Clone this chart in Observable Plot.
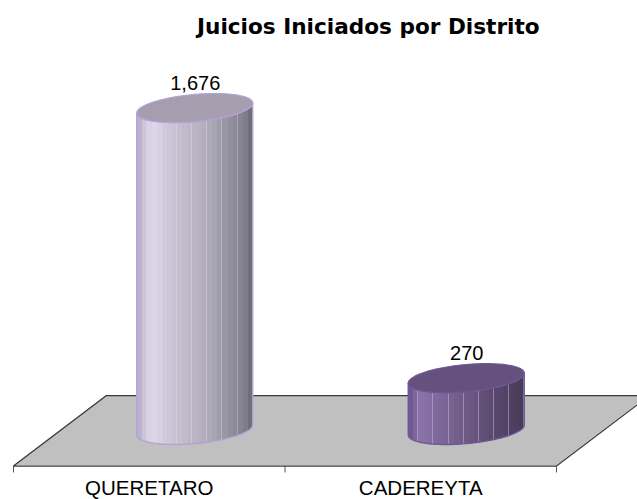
<!DOCTYPE html>
<html>
<head>
<meta charset="utf-8">
<script src="https://cdn.jsdelivr.net/npm/d3@7"></script>
<script src="https://cdn.jsdelivr.net/npm/@observablehq/plot@0.6"></script>
<style>
  html, body { margin: 0; padding: 0; background: #fff; }
  #title { height: 50px; box-sizing: border-box; padding: 14px 0 0 197px; font: bold 21.6px/26px "DejaVu Sans", sans-serif; color: #000; white-space: nowrap; }
  svg { display: block; }
</style>
</head>
<body>
<div id="title">Juicios Iniciados por Distrito</div>
<div id="chart"></div>
<script>
const chartTitle = "Juicios Iniciados por Distrito";
const categories = ["QUERETARO", "CADEREYTA"];
const values = [1676, 270];
const capColors = ["#a69eae", "#65517d"];
const edgeColors = ["#b3a2d6", "#6f5796"];
const sideShades = [
  ["#bbb3cc","#cbc4da","#d8d2e5","#dcd6e8","#d6d0e2","#d0cadc","#ccc6d8","#c8c2d3","#c5bfd0","#c1bccc","#bdb8c8","#bab5c4","#b7b2c1","#b3aebd","#aeaab8","#a8a4b2","#a09daa","#9a97a4","#93909e","#8d8a98","#868392","#7f7c8a","#706f78"],
  ["#6f5a8e","#7e679d","#8a72a8","#8870a5","#846da1","#80699c","#7d6798","#7a6494","#776290","#745f8c","#715c88","#6e5a85","#6b5781","#67547c","#635078","#5f4d74","#5b4a70","#58476c","#554568","#524265","#4f4061","#4c3e5d","#493b59"]
];
const stripeColors = ["#ece9f2", "#c9bcdc"];
const stripeStrength = [0.3, 0.5];

// Picture geometry, expressed in the units of the two scales
const depth = 0.3425, shift = 0.1694, rx = 0.2136, tilt = 26, bulge = 70.8;
const floorFront = -185, floorBack = 182, tickLen = -36, labelY = -302, valueDy = -25;
const angles = d3.range(0, 61).map(i => (i / 60) * Math.PI);

const cx = i => i + 0.5 + shift;
const arcs = (i, v) => angles.map(t => ({
  x: cx(i) + rx * Math.cos(t),
  back: v + tilt * Math.cos(t) + bulge * Math.sin(t),
  front: v + tilt * Math.cos(t) - bulge * Math.sin(t),
  base: tilt * Math.cos(t) - bulge * Math.sin(t)
}));

const floorArea = [
  {x: 0, y1: floorFront, y2: floorFront},
  {x: depth, y1: floorFront, y2: floorBack},
  {x: 2, y1: floorFront, y2: floorBack},
  {x: 2 + depth, y1: floorBack, y2: floorBack}
];
const floorEdge = [
  {x: 0, y: floorFront}, {x: depth, y: floorBack}, {x: 2 + depth, y: floorBack},
  {x: 2, y: floorFront}, {x: 0, y: floorFront}
];

function gradients() {
  const defs = d3.create("svg:defs");
  sideShades.forEach((shades, k) => {
    const g = defs.append("linearGradient").attr("id", "side" + k)
      .attr("x1", 0).attr("x2", 1).attr("y1", 0).attr("y2", 0);
    const n = shades.length;
    shades.forEach((c, j) => {
      const a = j / n, b = (j + 1) / n, line = 0.009;
      g.append("stop").attr("offset", a).attr("stop-color", c);
      g.append("stop").attr("offset", b - line).attr("stop-color", c);
      const s = j % 3 === 1 ? d3.interpolateRgb(c, stripeColors[k])(stripeStrength[k]) : c;
      g.append("stop").attr("offset", b - line).attr("stop-color", s);
      g.append("stop").attr("offset", b).attr("stop-color", s);
    });
  });
  return defs.node();
}

const marks = [
  gradients,
  Plot.areaY(floorArea, {x: "x", y1: "y1", y2: "y2", fill: "#c0c0c0"}),
  Plot.line(floorEdge, {x: "x", y: "y", stroke: "#3a3a3a", strokeWidth: 1.2}),
  Plot.ruleX([0, 1, 2], {y1: floorFront, y2: tickLen + floorFront, stroke: "#555", strokeWidth: 1})
];

categories.forEach((cat, i) => {
  const pts = arcs(i, values[i]);
  marks.push(
    Plot.areaY(pts, {x: "x", y1: "front", y2: "base", fill: `url(#side${i})`, stroke: edgeColors[i], strokeWidth: 1.4}),
    Plot.areaY(pts, {x: "x", y1: "back", y2: "front", fill: capColors[i], stroke: edgeColors[i], strokeWidth: 1.2}),
    Plot.text([values[i]], {x: cx(i), y: d => d, dy: valueDy, text: d => d3.format(",")(d), fontSize: 20, fill: "#000"}),
    Plot.text([cat], {x: i + 0.5, y: labelY, text: d => d, fontSize: 20.5, fill: "#000"})
  );
});

const plot = Plot.plot({
  width: 637,
  height: 449,
  margin: 0,
  style: {fontFamily: "'Liberation Sans', Arial, sans-serif", background: "#fff"},
  x: {domain: [0, 2], range: [13, 556], axis: null},
  y: {domain: [0, 1676], range: [380, 58], axis: null},
  marks
});
document.getElementById("chart").append(plot);
</script>
</body>
</html>
